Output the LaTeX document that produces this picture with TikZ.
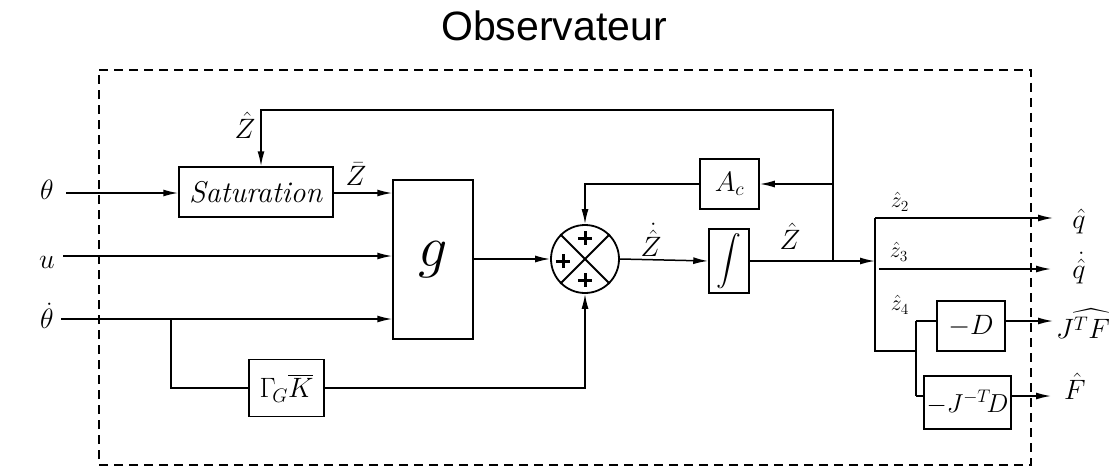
\RequirePackage{fix-cm}
\documentclass[tikz,border=0pt]{standalone}
\usepackage{fontspec}
\usepackage{amsmath}
\newfontfamily\titlefont{Liberation Sans}
\usetikzlibrary{arrows.meta}
\newcommand\lblsize{\fontsize{28}{32}\selectfont}
\newcommand\smsize{\fontsize{22}{26}\selectfont}
\begin{document}
\begin{tikzpicture}[x=1pt,y=-1pt,
  line width=1.5pt,
  box/.style={draw, line width=1.5pt, inner sep=0pt, font=\lblsize},
  lbl/.style={inner sep=0pt, font=\lblsize},
  sml/.style={inner sep=0pt, font=\smsize},
  arr/.style={-{Latex[length=15pt,width=7pt]}},
  plus/.style={line width=3pt}]
\useasboundingbox (0,0) rectangle (1115,468);
\node[font=\titlefont\fontsize{41}{46}\selectfont, inner sep=0pt] (title) at (554,26) {Observateur};
\draw[dash pattern=on 9pt off 6pt, line width=1.5pt] (99,70) -- (1031,70) -- (1031,465) -- (99,465) -- cycle;

% inputs
\node[lbl] (th) at (47,190) {$\theta$};
\node[lbl] (u) at (47,262) {$u$};
\node[lbl] (thd) at (47,316) {$\dot\theta$};
\coordinate (thin) at (66,193);
\coordinate (uin) at (63,256);
\coordinate (tdin) at (61,319);
\coordinate (br) at (171,319);

% blocks
\node[box, minimum width=154pt, minimum height=50pt, font=\fontsize{30}{34}\selectfont] (sat) at (256,192) {\textit{Saturation}};
\node[box, minimum width=80pt, minimum height=159pt, font=\fontsize{58}{64}\selectfont] (g) at (433,259.5) {$g$};
\node[box, minimum width=75pt, minimum height=57pt] (gam) at (286.5,388) {$\Gamma_{\!G}\overline{K}$};
\node[draw, circle, line width=1.8pt, minimum size=68pt, inner sep=0pt] (sum) at (585,259) {};
\node[box, minimum width=59pt, minimum height=50pt] (ac) at (729.5,184) {$A_c$};
\node[box, minimum width=40pt, minimum height=64pt, font=\fontsize{24}{28}\selectfont] (int) at (729,261) {$\displaystyle\int$};
\node[box, minimum width=68pt, minimum height=50pt] (d) at (971,326) {$-D$};
\node[box, minimum width=87pt, minimum height=53pt, font=\fontsize{26}{30}\selectfont] (jd) at (967.5,402.5) {$-J^{-T}\!D$};

% summation cross and signs
\draw[line width=1.8pt] (sum.45) -- (sum.225) (sum.135) -- (sum.315);
\draw[plus] (585,231) -- (585,245) (578,238) -- (592,238);
\draw[plus] (563,254) -- (563,268) (556,261) -- (570,261);
\draw[plus] (585,273) -- (585,287) (578,280) -- (592,280);

% labels
\node[lbl] (zh1) at (245,125) {$\hat Z$};
\node[lbl] (zb) at (356,174) {$\bar Z$};
\node[lbl] (zd) at (651,240) {$\dot{\hat Z}$};
\node[lbl] (zh2) at (790,236) {$\hat Z$};
\node[sml] (z2) at (900,202) {$\hat z_2$};
\node[sml] (z3) at (899,252) {$\hat z_3$};
\node[sml] (z4) at (900,305) {$\hat z_4$};
\node[lbl] (oq) at (1079,221) {$\hat q$};
\node[lbl] (oqd) at (1079,268) {$\dot{\hat q}$};
\node[lbl] (ojf) at (1083,324) {$J\widehat{^{T}F}$};
\node[lbl] (of) at (1075,386) {$\hat F$};

% coordinates
\coordinate (j1) at (833,261);
\coordinate (ztop) at (261,110);
\coordinate (bus) at (875,261);
\coordinate (busT) at (875,218);
\coordinate (busB) at (875,351);
\coordinate (z3s) at (879,269);
\coordinate (br2) at (916,351);
\coordinate (brT) at (916,321);
\coordinate (brB) at (916,396);
\coordinate (e1) at (1053,218);
\coordinate (e2) at (1051,269);
\coordinate (e3) at (1053,321);
\coordinate (e4) at (1051,396);

% connectors
\draw[arr] (thin) -- (sat.west |- thin);
\draw[arr] (uin) -- (g.west |- uin);
\draw[arr] (tdin) -- (g.west |- tdin);
\draw[arr] (sat.east |- thin) -- (g.west |- thin);
\draw[arr] (g.east |- sum) -- (sum.west);
\draw (br) |- (gam.west);
\draw[arr] (gam.east) -| (sum.south);
\draw[arr] (sum.east) -- (int.west);
\draw[arr] (int.east) -- (bus);
\draw[arr] (j1) |- (ztop) -- (ztop |- sat.north);
\draw[arr] (j1 |- ac.east) -- (ac.east);
\draw[arr] (ac.west) -| (sum.north);
\draw (busT) -- (busB) -- (br2);
\draw[arr] (busT) -- (e1);
\draw[arr] (z3s) -- (e2);
\draw (brT) -- (brB);
\draw (brT) -- (brT -| d.west);
\draw (brB) -- (brB -| jd.west);
\draw[arr] (brT -| d.east) -- (e3);
\draw[arr] (brB -| jd.east) -- (e4);
\end{tikzpicture}
\end{document}
